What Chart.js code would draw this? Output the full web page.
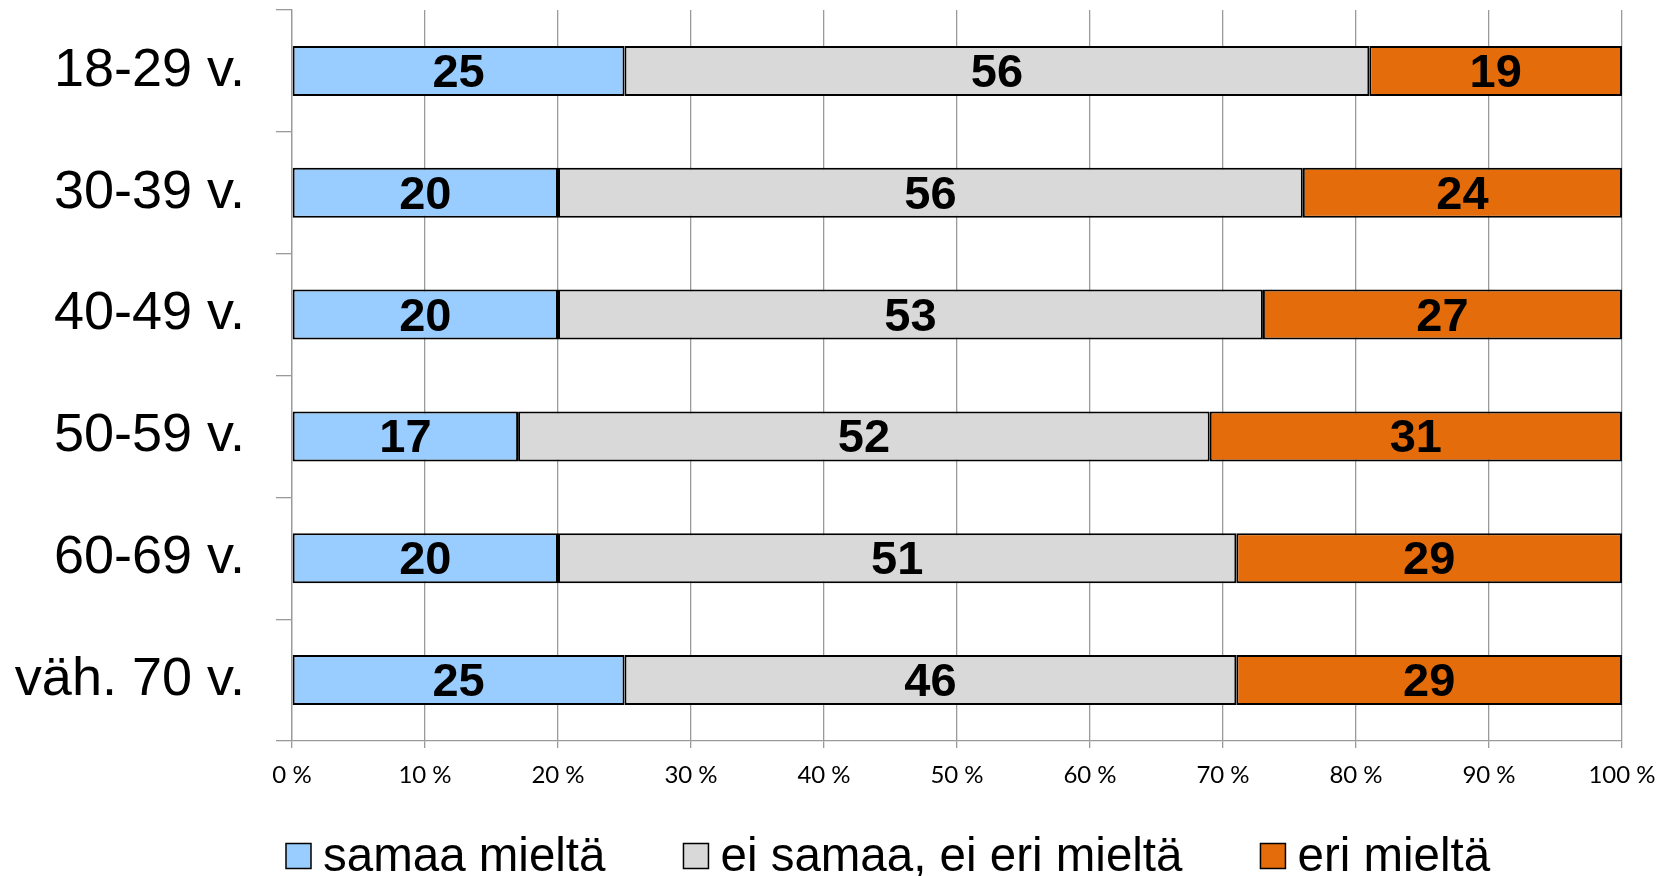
<!DOCTYPE html>
<html>
<head>
<meta charset="utf-8">
<script src="https://cdn.jsdelivr.net/npm/chart.js@4.4.1/dist/chart.umd.min.js"></script>
<style>
  html, body { margin: 0; padding: 0; background: #fff; }
  #wrap { width: 1670px; height: 876px; }
</style>
</head>
<body>
<div id="wrap"><canvas id="chart" width="1670" height="876"></canvas></div>
<script>
// age groups and answer shares (%)
const ageGroups = ['18-29 v.', '30-39 v.', '40-49 v.', '50-59 v.', '60-69 v.', 'väh. 70 v.'];
const agree = [25, 20, 20, 17, 20, 25];
const neutral = [56, 56, 53, 52, 51, 46];
const disagree = [19, 24, 27, 31, 29, 29];
const seriesNames = ['samaa mieltä', 'ei samaa, ei eri mieltä', 'eri mieltä'];
const xTicks = [0, 10, 20, 30, 40, 50, 60, 70, 80, 90, 100];

const colors = ['#99CCFF', '#D9D9D9', '#E46C0A'];
const gridGray = '#9a9a9a';
const arial = '"Liberation Sans", Arial, sans-serif';

// draws the value in the middle of each bar segment
const barValues = {
    id: 'barValues',
    afterDatasetsDraw(chart) {
        const ctx = chart.ctx;
        ctx.save();
        ctx.font = 'bold 47px ' + arial;
        ctx.fillStyle = '#000';
        ctx.textAlign = 'center';
        ctx.textBaseline = 'middle';
        chart.data.datasets.forEach((ds, i) => {
            const meta = chart.getDatasetMeta(i);
            meta.data.forEach((bar, j) => {
                const { x, y, base } = bar.getProps(['x', 'y', 'base'], true);
                ctx.fillText(String(ds.data[j]), (x + base) / 2, y + 3);
            });
        });
        ctx.restore();
    }
};

// legend row under the axis, boxes sit tight to their text like in the office chart
const bottomLegend = {
    id: 'bottomLegend',
    afterDraw(chart, args, opts) {
        const ctx = chart.ctx;
        const area = chart.chartArea;
        ctx.save();
        ctx.font = opts.fontSize + 'px ' + arial;
        ctx.textBaseline = 'middle';
        ctx.textAlign = 'left';
        let x = area.left + opts.offsetX;
        const cy = area.bottom + opts.offsetY;
        chart.data.datasets.forEach(ds => {
            ctx.fillStyle = ds.backgroundColor;
            ctx.fillRect(x, cy - opts.box / 2, opts.box, opts.box);
            ctx.lineWidth = 1.5;
            ctx.strokeStyle = '#000';
            ctx.strokeRect(x, cy - opts.box / 2, opts.box, opts.box);
            x += opts.box + opts.textGap;
            ctx.fillStyle = '#000';
            ctx.fillText(ds.label, x, cy + 2);
            x += ctx.measureText(ds.label).width + opts.itemGap;
        });
        ctx.restore();
    }
};

const makeSet = (i, data) => ({
    label: seriesNames[i],
    data: data,
    backgroundColor: colors[i],
    borderColor: '#000',
    borderWidth: 2,
    borderSkipped: false,
    categoryPercentage: 1,
    barPercentage: 0.41,
});

new Chart(document.getElementById('chart'), {
    type: 'bar',
    data: {
        labels: ageGroups,
        datasets: [makeSet(0, agree), makeSet(1, neutral), makeSet(2, disagree)],
    },
    options: {
        indexAxis: 'y',
        responsive: false,
        animation: false,
        layout: { padding: { top: 10, right: 48, left: 0, bottom: 75 } },
        scales: {
            x: {
                stacked: true,
                min: 0,
                max: 100,
                afterBuildTicks: scale => { scale.ticks = xTicks.map(v => ({ value: v })); },
                afterFit: scale => { scale.height = 60; },
                grid: { color: gridGray, lineWidth: 1.3, tickLength: 7 },
                border: { color: gridGray, width: 1.3 },
                ticks: {
                    padding: 13,
                    color: '#000',
                    font: { family: 'Lato, "Open Sans", sans-serif', size: 24 },
                    callback: v => v + ' %',
                },
            },
            y: {
                stacked: true,
                afterFit: scale => {
                    scale.width = 292;
                    scale.paddingTop = 0;
                    scale.paddingBottom = 0;
                },
                grid: { drawOnChartArea: false, color: gridGray, lineWidth: 1.3, tickLength: 16 },
                border: { color: gridGray, width: 1.3 },
                ticks: {
                    padding: 31,
                    color: '#000',
                    font: { family: arial, size: 54 },
                },
            },
        },
        plugins: {
            tooltip: { enabled: false },
            legend: { display: false },
            bottomLegend: { fontSize: 47.5, box: 25, textGap: 12, itemGap: 78, offsetX: -6, offsetY: 115 },
        },
    },
    plugins: [barValues, bottomLegend],
});
</script>
</body>
</html>
